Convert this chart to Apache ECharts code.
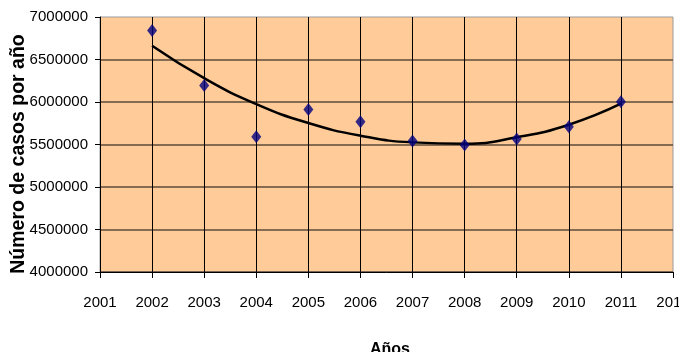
<!DOCTYPE html>
<html>
<head>
<meta charset="utf-8">
<script src="https://cdn.jsdelivr.net/npm/echarts@6/dist/echarts.min.js"></script>
<style>
  html, body { margin: 0; padding: 0; background: #ffffff; }
  #chart { width: 679px; height: 352px; }
</style>
</head>
<body>
<div id="chart"></div>
<script>
// Casos registrados por año (puntos) y línea de tendencia polinómica
const years = [2002, 2003, 2004, 2005, 2006, 2007, 2008, 2009, 2010, 2011];
const casos = [6840000, 6195000, 5592000, 5913000, 5768000, 5541000, 5494000, 5565000, 5709000, 6004000];
const tendencia = [6662000, 6280000, 5976000, 5753000, 5604000, 5525000, 5509000, 5585000, 5733000, 5980000];

const xTitle = 'Años';
const yTitle = 'Número de casos por año';

const font = '"Liberation Sans", Arial, sans-serif';

const chart = echarts.init(document.getElementById('chart'), null, { renderer: 'canvas' });

chart.setOption({
  animation: false,
  backgroundColor: '#ffffff',
  textStyle: { fontFamily: font },
  grid: {
    left: 100, right: 6, top: 17, bottom: 80,
    outerBoundsMode: 'none',
    containLabel: false,
    show: true,
    backgroundColor: '#FFCC99',
    borderColor: '#9a9a9a',
    borderWidth: 1
  },
  graphic: [
    {
      type: 'text',
      x: 19, y: 154,
      rotation: Math.PI / 2,
      style: {
        text: yTitle,
        font: 'bold 19.5px ' + font,
        fill: '#000',
        align: 'center',
        verticalAlign: 'middle'
      }
    }
  ],
  xAxis: {
    type: 'value',
    min: 2001, max: 2012, interval: 1,
    name: xTitle,
    nameLocation: 'middle',
    nameGap: 70,
    nameTextStyle: { fontFamily: font, fontSize: 16, fontWeight: 'bold', color: '#000', padding: [0, 0, 0, 7] },
    axisLine: { show: true, lineStyle: { color: '#000', width: 1 } },
    axisTick: { show: true, length: 6, lineStyle: { color: '#000' } },
    axisLabel: { color: '#000', fontFamily: font, fontSize: 15, margin: 23, formatter: v => String(v) },
    splitLine: { show: true, showMaxLine: false, lineStyle: { color: '#000', width: 1 } }
  },
  yAxis: {
    type: 'value',
    min: 4000000, max: 7000000, interval: 500000,
    axisLine: { show: true, lineStyle: { color: '#000', width: 1 } },
    axisTick: { show: true, length: 5, lineStyle: { color: '#000' } },
    axisLabel: { color: '#000', fontFamily: font, fontSize: 15, margin: 12, formatter: v => String(v) },
    splitLine: { show: true, showMaxLine: false, lineStyle: { color: '#5e4b3c', width: 1.5 } }
  },
  series: [
    {
      name: 'Tendencia',
      type: 'line',
      data: years.map((y, i) => [y, tendencia[i]]),
      smooth: 0.5,
      showSymbol: false,
      lineStyle: { color: '#000', width: 2.5 },
      z: 2
    },
    {
      name: 'Casos',
      type: 'scatter',
      data: years.map((y, i) => [y, casos[i]]),
      symbol: 'diamond',
      symbolSize: [10, 13],
      itemStyle: { color: '#000080' },
      z: 3
    }
  ]
});
</script>
</body>
</html>
